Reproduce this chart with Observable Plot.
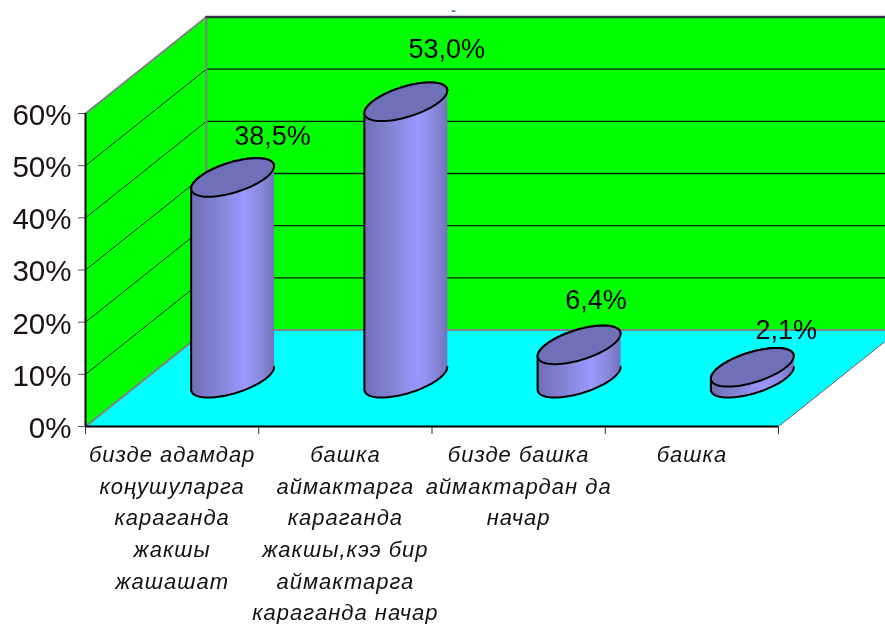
<!DOCTYPE html>
<html>
<head>
<meta charset="utf-8">
<script src="https://cdn.jsdelivr.net/npm/d3@7"></script>
<script src="https://cdn.jsdelivr.net/npm/@observablehq/plot@0.6"></script>
<style>
html,body{margin:0;padding:0;background:#fff}
svg{display:block;filter:blur(0.4px)}
.cat text,text.cat,.cat{letter-spacing:1px}
</style>
</head>
<body>
<div id="chart"></div>
<script>
// ---- data ----
const categories = [
  "бизде адамдар\nкоңушуларга\nкараганда\nжакшы\nжашашат",
  "башка\nаймактарга\nкараганда\nжакшы,кээ бир\nаймактарга\nкараганда начар",
  "бизде башка\nаймактардан да\nначар",
  "башка"
];
const values = [38.5, 53.0, 6.4, 2.1];
const valueLabels = ["38,5%", "53,0%", "6,4%", "2,1%"];
const yTicks = [0, 10, 20, 30, 40, 50, 60];

// ---- oblique projection: depth expressed in the x and y scale units ----
const DEPTH_X = 0.698, DEPTH_Y = 18.5;
const P = (c, v, d = 0) => ({x: c + DEPTH_X * d, y: v + DEPTH_Y * d});
const N = categories.length, TOP = 60;

// ---- cylinders: circle on the floor plane ----
const RX = 0.1945, RD = 0.2, MID = 0.5, STEPS = 72;
const rim = (i, v, t) => P(i + 0.5 + RX * Math.cos(t), v, MID + RD * Math.sin(t));
const t0 = Math.atan2(RD * DEPTH_X, RX);
const range = (a, b) => d3.range(STEPS + 1).map(k => a + (b - a) * k / STEPS);
const bodies = values.flatMap((v, i) => [
  ...range(t0, t0 - Math.PI).map(t => ({...rim(i, 0, t), id: i})),
  ...range(t0 + Math.PI, t0).map(t => ({...rim(i, v, t), id: i}))
]);
const tops = values.flatMap((v, i) => range(0, 2 * Math.PI).map(t => ({...rim(i, v, t), id: i})));

// ---- label nudges (layout only) ----
const labelNudge = [[40, -41], [41, -52], [17, -44], [34, -37]];

const poly = (pts, o) => Plot.line(pts, {x: "x", y: "y", ...o});
const seg = (a, b, o) => Plot.line([a, b], {x: "x", y: "y", ...o});
const GREEN = "#00ff00", CYAN = "#00ffff", GRAY = "#808080";

const gridLines = yTicks.slice(1);

const chart = Plot.plot({
  width: 885, height: 624,
  marginLeft: 85, marginRight: 107, marginTop: 113, marginBottom: 198,
  x: {domain: [0, N], axis: null, label: null},
  y: {domain: [0, TOP], axis: null, label: null},
  style: {fontFamily: "'Liberation Sans', Arial, sans-serif", background: "#fff", color: "#000"},
  marks: [
    () => d3.create("svg:defs").html(`<linearGradient id="cyl" x1="0" x2="1" y1="0" y2="0">
      <stop offset="0" stop-color="#6f6fb4"/><stop offset="0.35" stop-color="#8585d8"/>
      <stop offset="0.65" stop-color="#9999ff"/><stop offset="0.85" stop-color="#8888dc"/>
      <stop offset="1" stop-color="#7272bc"/></linearGradient>`).node(),
    // walls and floor
    poly([P(0,0,0), P(0,TOP,0), P(0,TOP,1), P(0,0,1)], {fill: GREEN, stroke: "none"}),
    poly([P(0,0,1), P(0,TOP,1), P(N,TOP,1), P(N,0,1)], {fill: GREEN, stroke: "none"}),
    poly([P(0,0,0), P(N,0,0), P(N,0,1), P(0,0,1)], {fill: CYAN, stroke: "none"}),
    // gridlines
    ...gridLines.filter(v => v < TOP).flatMap(v => [
      seg(P(0,v,0), P(0,v,1), {stroke: "#002000", strokeWidth: 1}),
      seg(P(0,v,1), P(N,v,1), {stroke: "#002000", strokeWidth: 1.4})
    ]),
    // edges
    seg(P(0,TOP,0), P(0,TOP,1), {stroke: GRAY, strokeWidth: 2}),
    seg(P(0,0,1), P(0,TOP,1), {stroke: GRAY, strokeWidth: 2}),
    seg(P(0,0,0), P(0,0,1), {stroke: GRAY, strokeWidth: 2}),
    seg(P(0,0,1), P(N,0,1), {stroke: GRAY, strokeWidth: 2}),
    seg(P(N,0,0), P(N,0,1), {stroke: "#606060", strokeWidth: 1}),
    seg(P(0,TOP,1), P(N,TOP,1), {stroke: "#333344", strokeWidth: 2.5}),
    // axes
    Plot.axisY({ticks: yTicks, label: null, tickSize: 7, tickFormat: () => "", stroke: "#555"}),
    Plot.axisY({ticks: yTicks, label: null, tickSize: 0, tickPadding: 14, dy: 2, tickFormat: d => d + "%", fontSize: 29.5, fill: "#1a1010", textStroke: "none"}),
    Plot.axisX({ticks: d3.range(N + 1), label: null, tickSize: 8, tickFormat: () => "", stroke: "#333"}),
    Plot.ruleX([0], {y1: 0, y2: TOP, stroke: "#000", strokeWidth: 2}),
    Plot.ruleY([0], {x1: 0, x2: N, stroke: "#000", strokeWidth: 2}),
    // cylinders
    Plot.line(bodies, {x: "x", y: "y", z: "id", fill: "url(#cyl)", stroke: "#000", strokeWidth: 2}),
    Plot.line(tops, {x: "x", y: "y", z: "id", fill: "#7070b8", stroke: "#000", strokeWidth: 2}),
    // value labels
    ...values.map((v, i) => Plot.text([valueLabels[i]], {
      x: () => P(i + 0.5, v, MID).x, y: () => P(i + 0.5, v, MID).y,
      text: d => d, dx: labelNudge[i][0], dy: labelNudge[i][1],
      fontSize: 27, fill: "#000"
    })),
    // category labels
    Plot.text(categories, {
      x: (d, i) => i + 0.5, y: () => 0, text: d => d, className: "cat",
      dy: 13, lineAnchor: "top", lineHeight: 1.44,
      fontSize: 22, fontStyle: "italic", fill: "#111"
    }),
    // stray mark above the plot
    Plot.text(["-"], {x: () => 2.124, y: () => 79.7, text: d => d, fontSize: 14, fontWeight: "bold", fill: "#4a7ab0"})
  ]
});
document.getElementById("chart").append(chart);
</script>
</body>
</html>
